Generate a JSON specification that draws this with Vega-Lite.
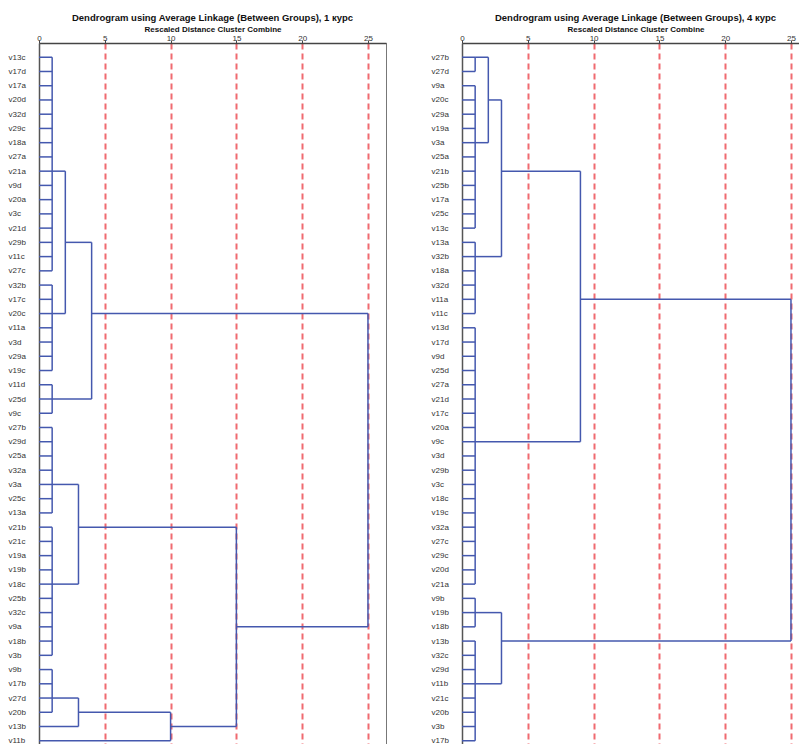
{
  "$schema": "https://vega.github.io/schema/vega-lite/v6.json",
  "padding": {"left": 7, "top": 12, "right": 0, "bottom": 0},
  "spacing": 43,
  "background": "white",
  "config": {
    "font": "Liberation Sans",
    "view": {"stroke": "#777", "strokeWidth": 1},
    "title": {"fontSize": 9.5, "fontWeight": "bold", "color": "#111", "anchor": "middle", "offset": 3},
    "axisX": {
      "labelFontSize": 8,
      "labelColor": "#333",
      "labelBaseline": "alphabetic",
      "labelPadding": 0,
      "labelFlush": false,
      "tickSize": 3,
      "tickColor": "#444",
      "domainColor": "#444",
      "domainWidth": 1.5,
      "titleFontSize": 8,
      "titleFontWeight": "bold",
      "titleColor": "#111",
      "titlePadding": 1,
      "grid": true,
      "gridColor": "#f06a70",
      "gridDash": [6, 4],
      "gridWidth": 2
    },
    "axisY": {
      "ticks": false,
      "tickSize": 0,
      "labelPadding": 31,
      "labelAlign": "left",
      "labelFontSize": 8,
      "labelColor": "#333",
      "domainColor": "#555",
      "domainWidth": 1.5,
      "grid": false
    }
  },
  "datasets": {
    "leaves1": [
      {"row": 1, "name": "v13c", "join": 1}, {"row": 2, "name": "v17d", "join": 1}, {"row": 3, "name": "v17a", "join": 1},
      {"row": 4, "name": "v20d", "join": 1}, {"row": 5, "name": "v32d", "join": 1}, {"row": 6, "name": "v29c", "join": 1},
      {"row": 7, "name": "v18a", "join": 1}, {"row": 8, "name": "v27a", "join": 1}, {"row": 9, "name": "v21a", "join": 1},
      {"row": 10, "name": "v9d", "join": 1}, {"row": 11, "name": "v20a", "join": 1}, {"row": 12, "name": "v3c", "join": 1},
      {"row": 13, "name": "v21d", "join": 1}, {"row": 14, "name": "v29b", "join": 1}, {"row": 15, "name": "v11c", "join": 1},
      {"row": 16, "name": "v27c", "join": 1}, {"row": 17, "name": "v32b", "join": 1}, {"row": 18, "name": "v17c", "join": 1},
      {"row": 19, "name": "v20c", "join": 1}, {"row": 20, "name": "v11a", "join": 1}, {"row": 21, "name": "v3d", "join": 1},
      {"row": 22, "name": "v29a", "join": 1}, {"row": 23, "name": "v19c", "join": 1}, {"row": 24, "name": "v11d", "join": 1},
      {"row": 25, "name": "v25d", "join": 1}, {"row": 26, "name": "v9c", "join": 1}, {"row": 27, "name": "v27b", "join": 1},
      {"row": 28, "name": "v29d", "join": 1}, {"row": 29, "name": "v25a", "join": 1}, {"row": 30, "name": "v32a", "join": 1},
      {"row": 31, "name": "v3a", "join": 1}, {"row": 32, "name": "v25c", "join": 1}, {"row": 33, "name": "v13a", "join": 1},
      {"row": 34, "name": "v21b", "join": 1}, {"row": 35, "name": "v21c", "join": 1}, {"row": 36, "name": "v19a", "join": 1},
      {"row": 37, "name": "v19b", "join": 1}, {"row": 38, "name": "v18c", "join": 1}, {"row": 39, "name": "v25b", "join": 1},
      {"row": 40, "name": "v32c", "join": 1}, {"row": 41, "name": "v9a", "join": 1}, {"row": 42, "name": "v18b", "join": 1},
      {"row": 43, "name": "v3b", "join": 1}, {"row": 44, "name": "v9b", "join": 1}, {"row": 45, "name": "v17b", "join": 1},
      {"row": 46, "name": "v27d", "join": 1}, {"row": 47, "name": "v20b", "join": 1}, {"row": 48, "name": "v13b", "join": 3},
      {"row": 49, "name": "v11b", "join": 10}
    ],
    "links1": [
      {"x1": 1, "x2": 1, "y1": 1, "y2": 16},
      {"x1": 1, "x2": 1, "y1": 17, "y2": 23},
      {"x1": 1, "x2": 1, "y1": 24, "y2": 26},
      {"x1": 1, "x2": 1, "y1": 27, "y2": 33},
      {"x1": 1, "x2": 1, "y1": 34, "y2": 43},
      {"x1": 1, "x2": 1, "y1": 44, "y2": 47},
      {"x1": 2, "x2": 2, "y1": 9, "y2": 19},
      {"x1": 4, "x2": 4, "y1": 14, "y2": 25},
      {"x1": 3, "x2": 3, "y1": 31, "y2": 38},
      {"x1": 3, "x2": 3, "y1": 46, "y2": 48},
      {"x1": 10, "x2": 10, "y1": 47, "y2": 49},
      {"x1": 15, "x2": 15, "y1": 34, "y2": 48},
      {"x1": 25, "x2": 25, "y1": 19, "y2": 41},
      {"x1": 1, "x2": 2, "y1": 9, "y2": 9},
      {"x1": 1, "x2": 2, "y1": 19, "y2": 19},
      {"x1": 2, "x2": 4, "y1": 14, "y2": 14},
      {"x1": 1, "x2": 4, "y1": 25, "y2": 25},
      {"x1": 4, "x2": 25, "y1": 19, "y2": 19},
      {"x1": 1, "x2": 3, "y1": 31, "y2": 31},
      {"x1": 1, "x2": 3, "y1": 38, "y2": 38},
      {"x1": 3, "x2": 15, "y1": 34, "y2": 34},
      {"x1": 1, "x2": 3, "y1": 46, "y2": 46},
      {"x1": 3, "x2": 10, "y1": 47, "y2": 47},
      {"x1": 10, "x2": 15, "y1": 48, "y2": 48},
      {"x1": 15, "x2": 25, "y1": 41, "y2": 41}
    ],
    "leaves4": [
      {"row": 1, "name": "v27b", "join": 1}, {"row": 2, "name": "v27d", "join": 1}, {"row": 3, "name": "v9a", "join": 1},
      {"row": 4, "name": "v20c", "join": 1}, {"row": 5, "name": "v29a", "join": 1}, {"row": 6, "name": "v19a", "join": 1},
      {"row": 7, "name": "v3a", "join": 1}, {"row": 8, "name": "v25a", "join": 1}, {"row": 9, "name": "v21b", "join": 1},
      {"row": 10, "name": "v25b", "join": 1}, {"row": 11, "name": "v17a", "join": 1}, {"row": 12, "name": "v25c", "join": 1},
      {"row": 13, "name": "v13c", "join": 1}, {"row": 14, "name": "v13a", "join": 1}, {"row": 15, "name": "v32b", "join": 1},
      {"row": 16, "name": "v18a", "join": 1}, {"row": 17, "name": "v32d", "join": 1}, {"row": 18, "name": "v11a", "join": 1},
      {"row": 19, "name": "v11c", "join": 1}, {"row": 20, "name": "v13d", "join": 1}, {"row": 21, "name": "v17d", "join": 1},
      {"row": 22, "name": "v9d", "join": 1}, {"row": 23, "name": "v25d", "join": 1}, {"row": 24, "name": "v27a", "join": 1},
      {"row": 25, "name": "v21d", "join": 1}, {"row": 26, "name": "v17c", "join": 1}, {"row": 27, "name": "v20a", "join": 1},
      {"row": 28, "name": "v9c", "join": 1}, {"row": 29, "name": "v3d", "join": 1}, {"row": 30, "name": "v29b", "join": 1},
      {"row": 31, "name": "v3c", "join": 1}, {"row": 32, "name": "v18c", "join": 1}, {"row": 33, "name": "v19c", "join": 1},
      {"row": 34, "name": "v32a", "join": 1}, {"row": 35, "name": "v27c", "join": 1}, {"row": 36, "name": "v29c", "join": 1},
      {"row": 37, "name": "v20d", "join": 1}, {"row": 38, "name": "v21a", "join": 1}, {"row": 39, "name": "v9b", "join": 1},
      {"row": 40, "name": "v19b", "join": 1}, {"row": 41, "name": "v18b", "join": 1}, {"row": 42, "name": "v13b", "join": 1},
      {"row": 43, "name": "v32c", "join": 1}, {"row": 44, "name": "v29d", "join": 1}, {"row": 45, "name": "v11b", "join": 1},
      {"row": 46, "name": "v21c", "join": 1}, {"row": 47, "name": "v20b", "join": 1}, {"row": 48, "name": "v3b", "join": 1},
      {"row": 49, "name": "v17b", "join": 1}
    ],
    "links4": [
      {"x1": 1, "x2": 1, "y1": 1, "y2": 2},
      {"x1": 1, "x2": 1, "y1": 3, "y2": 13},
      {"x1": 2, "x2": 2, "y1": 1, "y2": 7},
      {"x1": 1, "x2": 1, "y1": 14, "y2": 19},
      {"x1": 3, "x2": 3, "y1": 4, "y2": 15},
      {"x1": 1, "x2": 1, "y1": 20, "y2": 38},
      {"x1": 9, "x2": 9, "y1": 9, "y2": 28},
      {"x1": 1, "x2": 1, "y1": 39, "y2": 41},
      {"x1": 1, "x2": 1, "y1": 42, "y2": 49},
      {"x1": 3, "x2": 3, "y1": 40, "y2": 45},
      {"x1": 25, "x2": 25, "y1": 18, "y2": 42},
      {"x1": 1, "x2": 2, "y1": 1, "y2": 1},
      {"x1": 1, "x2": 2, "y1": 7, "y2": 7},
      {"x1": 2, "x2": 3, "y1": 4, "y2": 4},
      {"x1": 1, "x2": 3, "y1": 15, "y2": 15},
      {"x1": 3, "x2": 9, "y1": 9, "y2": 9},
      {"x1": 1, "x2": 9, "y1": 28, "y2": 28},
      {"x1": 9, "x2": 25, "y1": 18, "y2": 18},
      {"x1": 1, "x2": 3, "y1": 40, "y2": 40},
      {"x1": 1, "x2": 3, "y1": 45, "y2": 45},
      {"x1": 3, "x2": 25, "y1": 42, "y2": 42}
    ]
  },
  "hconcat": [
    {
      "title": "Dendrogram using Average Linkage (Between Groups), 1 курс",
      "width": 347,
      "height": 712,
      "layer": [
        {
          "data": {"name": "leaves1"},
          "mark": {"type": "point", "opacity": 0},
          "encoding": {
            "y": {"field": "name", "type": "nominal", "sort": {"field": "row", "op": "min"}, "scale": {"type": "point", "padding": 1}, "axis": {"title": null}}
          }
        },
        {
          "data": {"name": "leaves1"},
          "mark": {"type": "rule", "color": "#4458ae", "strokeWidth": 1.5},
          "encoding": {
            "x": {"field": "join", "type": "quantitative", "scale": {"domain": [0, 26.37], "nice": false},
                  "axis": {"title": "Rescaled Distance Cluster Combine", "orient": "top", "values": [0, 5, 10, 15, 20, 25],
                           "gridOpacity": {"condition": {"test": "datum.value == 0", "value": 0}, "value": 1}}},
            "x2": {"datum": 0},
            "y": {"field": "row", "type": "quantitative", "scale": {"domain": [0, 50], "reverse": true, "nice": false}, "axis": null}
          }
        },
        {
          "data": {"name": "links1"},
          "mark": {"type": "rule", "color": "#4458ae", "strokeWidth": 1.5},
          "encoding": {
            "x": {"field": "x1", "type": "quantitative"},
            "x2": {"field": "x2"},
            "y": {"field": "y1", "type": "quantitative", "scale": {"domain": [0, 50], "reverse": true, "nice": false}, "axis": null},
            "y2": {"field": "y2"}
          }
        }
      ],
      "resolve": {"scale": {"y": "independent"}, "axis": {"y": "independent"}}
    },
    {
      "title": "Dendrogram using Average Linkage (Between Groups), 4 курс",
      "width": 347,
      "height": 712,
      "layer": [
        {
          "data": {"name": "leaves4"},
          "mark": {"type": "point", "opacity": 0},
          "encoding": {
            "y": {"field": "name", "type": "nominal", "sort": {"field": "row", "op": "min"}, "scale": {"type": "point", "padding": 1}, "axis": {"title": null}}
          }
        },
        {
          "data": {"name": "leaves4"},
          "mark": {"type": "rule", "color": "#4458ae", "strokeWidth": 1.5},
          "encoding": {
            "x": {"field": "join", "type": "quantitative", "scale": {"domain": [0, 26.37], "nice": false},
                  "axis": {"title": "Rescaled Distance Cluster Combine", "orient": "top", "values": [0, 5, 10, 15, 20, 25],
                           "gridOpacity": {"condition": {"test": "datum.value == 0", "value": 0}, "value": 1}}},
            "x2": {"datum": 0},
            "y": {"field": "row", "type": "quantitative", "scale": {"domain": [0, 50], "reverse": true, "nice": false}, "axis": null}
          }
        },
        {
          "data": {"name": "links4"},
          "mark": {"type": "rule", "color": "#4458ae", "strokeWidth": 1.5},
          "encoding": {
            "x": {"field": "x1", "type": "quantitative"},
            "x2": {"field": "x2"},
            "y": {"field": "y1", "type": "quantitative", "scale": {"domain": [0, 50], "reverse": true, "nice": false}, "axis": null},
            "y2": {"field": "y2"}
          }
        }
      ],
      "resolve": {"scale": {"y": "independent"}, "axis": {"y": "independent"}}
    }
  ]
}
